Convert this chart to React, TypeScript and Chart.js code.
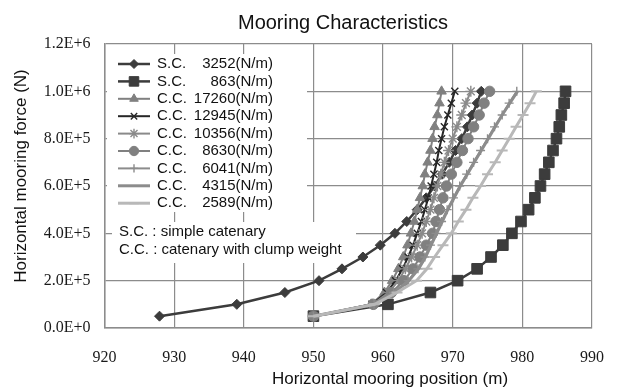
import React, { useEffect, useRef } from 'react';
import { Chart, registerables } from 'chart.js';
import { drawPoint } from 'chart.js/helpers';

Chart.register(...registerables);

// ---------- data ----------
const FORCE_N = [50000, 100000, 150000, 200000, 250000, 300000, 350000, 400000, 450000, 500000,
  550000, 600000, 650000, 700000, 750000, 800000, 850000, 900000, 950000, 1000000];

const SC_3252_X = [927.9, 939.0, 945.9, 950.8, 954.1, 957.1, 959.6, 961.7, 963.4, 964.9,
  966.2, 967.4, 968.5, 969.5, 970.4, 971.3, 972.1, 972.8, 973.5, 974.1];
const SC_863_X = [950.0, 960.7, 966.8, 970.7, 973.5, 975.5, 977.2, 978.5, 979.8, 980.9,
  981.8, 982.6, 983.2, 983.8, 984.4, 984.9, 985.3, 985.6, 986.0, 986.2];
const CC_17260_X = [950.0, 958.3, 960.2, 961.3, 962.2, 962.9, 963.5, 964.0, 964.5, 964.9,
  965.3, 965.7, 966.0, 966.4, 966.8, 967.1, 967.4, 967.8, 968.1, 968.4];
const CC_12945_X = [950.0, 958.4, 960.5, 961.8, 962.8, 963.6, 964.3, 964.9, 965.5, 966.0,
  966.5, 966.9, 967.3, 967.7, 968.0, 968.4, 968.8, 969.3, 969.8, 970.3];
const CC_10356_X = [950.0, 958.5, 960.8, 962.2, 963.2, 964.1, 964.9, 965.6, 966.2, 966.8,
  967.3, 967.8, 968.3, 968.8, 969.4, 970.0, 970.6, 971.3, 971.9, 972.6];
const CC_8630_X = [950.0, 958.6, 961.2, 963.0, 964.3, 965.3, 966.2, 967.1, 967.6, 968.1,
  968.6, 969.1, 969.8, 970.6, 971.4, 972.2, 973.0, 973.8, 974.5, 975.3];
const CC_6041_X = [950.0, 958.7, 961.5, 963.6, 965.0, 966.0, 966.8, 967.6, 968.4, 969.2,
  970.1, 971.0, 972.0, 973.0, 974.0, 975.0, 976.0, 977.1, 978.1, 979.2];
const CC_4315_X = [950.0, 958.7, 961.6, 963.7, 965.1, 966.1, 966.9, 967.7, 968.5, 969.3,
  970.2, 971.1, 972.1, 973.1, 974.1, 975.1, 976.1, 977.1, 978.2, 979.3];
const CC_2589_X = [950.0, 958.8, 962.0, 964.8, 966.3, 967.4, 968.6, 969.8, 970.8, 971.9,
  972.9, 974.0, 975.0, 976.1, 977.1, 978.1, 979.1, 980.1, 981.1, 982.0];

const LEGEND_PREFIX = ['S.C.', 'S.C.', 'C.C.', 'C.C.', 'C.C.', 'C.C.', 'C.C.', 'C.C.', 'C.C.'];
const LEGEND_VALUE = ['3252(N/m)', '863(N/m)', '17260(N/m)', '12945(N/m)', '10356(N/m)',
  '8630(N/m)', '6041(N/m)', '4315(N/m)', '2589(N/m)'];
const NOTES = ['S.C. : simple catenary', 'C.C. : catenary with clump weight'];

const X_TICKS = [920, 930, 940, 950, 960, 970, 980, 990];
const Y_TICK_VALUES = [0, 200000, 400000, 600000, 800000, 1000000, 1200000];
const Y_TICK_LABELS = ['0.0E+0', '2.0E+5', '4.0E+5', '6.0E+5', '8.0E+5', '1.0E+6', '1.2E+6'];

const TITLE = 'Mooring Characteristics';
const X_TITLE = 'Horizontal mooring position (m)';
const Y_TITLE = 'Horizontal mooring force (N)';

// ---------- styles ----------
const SERIES_X = [SC_3252_X, SC_863_X, CC_17260_X, CC_12945_X, CC_10356_X, CC_8630_X, CC_6041_X, CC_4315_X, CC_2589_X];
const STYLES = [
  { color: '#3c3c3c', point: 'rectRot', r: 5, lw: 2.5, pbw: 1 },
  { color: '#3c3c3c', point: 'rect', r: 7.5, lw: 2.5, pbw: 1 },
  { color: '#808080', point: 'triangle', r: 5.5, lw: 2, pbw: 1 },
  { color: '#262626', point: 'crossRot', r: 5, lw: 2, pbw: 1.4 },
  { color: '#8a8a8a', point: 'star', r: 5.5, lw: 2, pbw: 1.4 },
  { color: '#808080', point: 'circle', r: 5.2, lw: 2, pbw: 1 },
  { color: '#8c8c8c', point: 'cross', r: 4.5, lw: 2, pbw: 1.4 },
  { color: '#8c8c8c', point: false as any, r: 0, lw: 3, pbw: 0 },
  { color: '#b8b8b8', point: 'line', r: 5.5, lw: 3, pbw: 2 },
];

const SANS = "'Liberation Sans', Arial, sans-serif";
const SERIF = "'Liberation Serif', 'Times New Roman', serif";
const GRID = '#8c8c8c';

const decorPlugin = {
  id: 'decor',
  beforeDraw(chart: any) {
    const { ctx, width, height } = chart;
    ctx.save();
    ctx.fillStyle = '#ffffff';
    ctx.fillRect(0, 0, width, height);
    ctx.restore();
  },
  beforeDatasetsDraw(chart: any) {
    const { ctx } = chart;
    ctx.save();
    ctx.fillStyle = '#ffffff';
    ctx.fillRect(107, 54, 200, 158);
    ctx.fillRect(112, 222, 244, 41);
    ctx.restore();
  },
  afterDatasetsDraw(chart: any) {
    const { ctx } = chart;
    ctx.save();
    for (let i = 0; i < LEGEND_PREFIX.length; i++) {
      const st = STYLES[i];
      const y = 64 + 17.4 * i;
      ctx.strokeStyle = st.color;
      ctx.lineWidth = st.lw;
      ctx.beginPath();
      ctx.moveTo(118, y);
      ctx.lineTo(150, y);
      ctx.stroke();
      if (st.point) {
        ctx.fillStyle = st.color;
        ctx.strokeStyle = st.color;
        ctx.lineWidth = st.pbw;
        drawPoint(ctx, { pointStyle: st.point, radius: st.r * 0.9, rotation: 0, borderWidth: st.pbw } as any, 134, y);
      }
      ctx.fillStyle = '#111';
      ctx.font = `15px ${SANS}`;
      ctx.textBaseline = 'middle';
      ctx.textAlign = 'left';
      ctx.fillText(LEGEND_PREFIX[i], 157, y);
      ctx.textAlign = 'right';
      ctx.fillText(LEGEND_VALUE[i], 273, y);
    }
    ctx.textAlign = 'left';
    ctx.fillText(NOTES[0], 119, 232);
    ctx.fillText(NOTES[1], 119, 250);

    ctx.fillStyle = '#111';
    ctx.font = `20px ${SANS}`;
    ctx.textAlign = 'center';
    ctx.textBaseline = 'alphabetic';
    ctx.fillText(TITLE, 343, 29);

    ctx.font = `17px ${SANS}`;
    ctx.fillText(X_TITLE, 390, 384);

    ctx.translate(21, 176);
    ctx.rotate(-Math.PI / 2);
    ctx.textBaseline = 'middle';
    ctx.fillText(Y_TITLE, 0, 0);
    ctx.restore();
  },
};

export default function App() {
  const ref = useRef<HTMLCanvasElement>(null);

  useEffect(() => {
    document.body.style.margin = '0';
    const canvas = ref.current;
    if (!canvas) return;

    const datasets = SERIES_X.map((xs, i) => {
      const st = STYLES[i];
      return {
        label: `${LEGEND_PREFIX[i]} ${LEGEND_VALUE[i]}`,
        data: xs.map((x, k) => ({ x, y: FORCE_N[k] })),
        showLine: true,
        borderColor: st.color,
        backgroundColor: st.color,
        borderWidth: st.lw,
        pointStyle: st.point,
        pointRadius: st.r,
        pointBorderWidth: st.pbw,
        pointBackgroundColor: st.color,
        pointBorderColor: st.color,
        tension: 0,
        order: SERIES_X.length - 1 - i,
      };
    });

    const chart = new Chart(canvas, {
      type: 'scatter',
      data: { datasets } as any,
      options: {
        responsive: false,
        animation: false,
        devicePixelRatio: 1,
        layout: { padding: { top: 44, right: 11, left: 0, bottom: 0 } },
        plugins: {
          legend: { display: false },
          tooltip: { enabled: false },
          title: { display: false },
        },
        scales: {
          x: {
            type: 'linear',
            min: 920,
            max: 990,
            afterBuildTicks: (s: any) => { s.ticks = X_TICKS.map((v) => ({ value: v })); },
            afterFit: (s: any) => { s.height = 63; },
            ticks: {
              font: { family: SERIF, size: 16 },
              color: '#1a1a1a',
              padding: 20,
              maxRotation: 0,
              callback: (v: any) => String(v),
            },
            grid: { color: GRID, lineWidth: 1.2, drawTicks: false },
            border: { color: GRID, width: 1.5 },
          },
          y: {
            type: 'linear',
            min: 0,
            max: 1200000,
            afterBuildTicks: (s: any) => { s.ticks = Y_TICK_VALUES.map((v) => ({ value: v })); },
            afterFit: (s: any) => { s.width = 104.5; },
            ticks: {
              font: { family: SERIF, size: 16 },
              color: '#1a1a1a',
              padding: 14,
              callback: (_v: any, i: number) => Y_TICK_LABELS[i],
            },
            grid: { color: GRID, lineWidth: 1.2, drawTicks: false },
            border: { color: GRID, width: 1.5 },
          },
        },
      } as any,
      plugins: [decorPlugin],
    });
    return () => chart.destroy();
  }, []);

  return (
    <div style={{ width: 624, height: 391 }}>
      <canvas ref={ref} width={624} height={391} style={{ display: 'block' }} />
    </div>
  );
}
